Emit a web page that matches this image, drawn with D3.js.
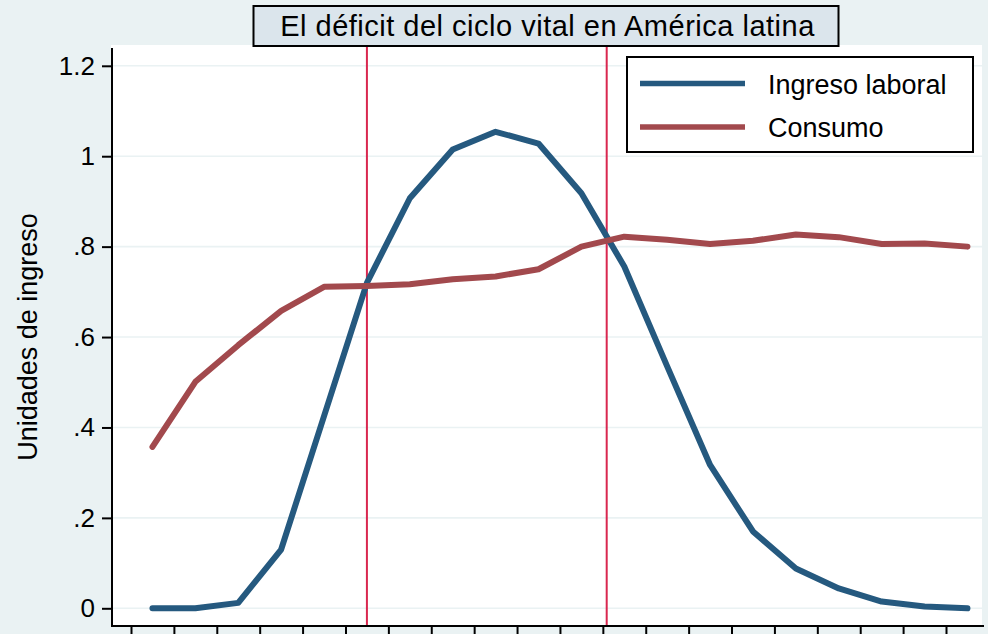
<!DOCTYPE html>
<html>
<head>
<meta charset="utf-8">
<script src="https://cdn.jsdelivr.net/npm/d3@7"></script>
<style>
  html, body { margin: 0; padding: 0; background: #eaf2f3; }
  svg { display: block; }
  text { font-family: "Liberation Sans", Arial, Helvetica, sans-serif; fill: #000; }
</style>
</head>
<body>
<svg id="chart" width="988" height="634"></svg>
<script>
// ---- data ----
const ages = [2.5, 7.5, 12.5, 17.5, 22.5, 27.5, 32.5, 37.5, 42.5, 47.5,
              52.5, 57.5, 62.5, 67.5, 72.5, 77.5, 82.5, 87.5, 92.5, 97.5];
const ingresoLaboral = [0, 0, 0.012, 0.13, 0.425, 0.72, 0.907, 1.015, 1.054, 1.028,
                        0.918, 0.756, 0.535, 0.317, 0.17, 0.088, 0.044, 0.015, 0.004, 0];
const consumo = [0.357, 0.501, 0.582, 0.658, 0.711, 0.713, 0.717, 0.728, 0.734, 0.75,
                 0.80, 0.822, 0.815, 0.806, 0.813, 0.827, 0.821, 0.806, 0.807, 0.80];
const xTicks = [0, 5, 10, 15, 20, 25, 30, 35, 40, 45, 50, 55, 60, 65, 70, 75, 80, 85, 90, 95];
const yTicks = [0, 0.2, 0.4, 0.6, 0.8, 1, 1.2];
const yTickLabels = ["0", ".2", ".4", ".6", ".8", "1", "1.2"];
const vLines = [27.5, 55.45];
const seriesNames = ["Ingreso laboral", "Consumo"];
const title = "El déficit del ciclo vital en América latina";
const yTitle = "Unidades de ingreso";

// ---- layout ----
const svg = d3.select("#chart");
const W = 988, H = 634;
const plot = { left: 112, right: 982, top: 45, bottom: 626 };
const colors = ["#25597f", "#a2494d"];

const x = d3.scaleLinear().domain([0, 95]).range([131, 946]);
const y = d3.scaleLinear().domain([0, 1.2]).range([608.3, 65.8]);

svg.append("rect").attr("x", 0).attr("y", 0).attr("width", W).attr("height", H).attr("fill", "#eaf2f3");
svg.append("rect").attr("x", plot.left - 1).attr("y", plot.top)
  .attr("width", plot.right - plot.left + 1).attr("height", plot.bottom - plot.top).attr("fill", "#ffffff");

// gridlines
svg.append("g").selectAll("line").data(yTicks).join("line")
  .attr("x1", plot.left).attr("x2", plot.right)
  .attr("y1", d => y(d)).attr("y2", d => y(d))
  .attr("stroke", "#eaf2f3").attr("stroke-width", 1.6);

// y axis
const yAxis = d3.axisLeft(y).tickValues(yTicks)
  .tickFormat((d, i) => yTickLabels[i]).tickSize(10).tickPadding(7);
const gy = svg.append("g").attr("transform", `translate(${plot.left},0)`).call(yAxis);
gy.select(".domain").attr("d", `M0,${plot.top + 3}V${plot.bottom}`).attr("stroke", "#000").attr("stroke-width", 2);
gy.selectAll(".tick line").attr("stroke", "#000").attr("stroke-width", 2);
gy.selectAll(".tick text").attr("font-size", 26).attr("font-family", "Liberation Sans, Arial, sans-serif").attr("fill", "#000");

// x axis
const xAxis = d3.axisBottom(x).tickValues(xTicks).tickFormat("").tickSize(12);
const gx = svg.append("g").attr("transform", `translate(0,${plot.bottom})`).call(xAxis);
gx.select(".domain").attr("d", `M${plot.left - 1},0H${plot.right + 2}`).attr("stroke", "#000").attr("stroke-width", 2);
gx.selectAll(".tick line").attr("stroke", "#000").attr("stroke-width", 2);

// vertical reference lines
svg.append("g").selectAll("line").data(vLines).join("line")
  .attr("x1", d => x(d)).attr("x2", d => x(d))
  .attr("y1", plot.top).attr("y2", plot.bottom - 1)
  .attr("stroke", "#d9274f").attr("stroke-width", 2);

// series lines
const series = [ingresoLaboral, consumo];
const line = d3.line().x((d, i) => x(ages[i])).y(d => y(d));
svg.append("g").selectAll("path").data(series).join("path")
  .attr("d", d => line(d))
  .attr("fill", "none")
  .attr("stroke", (d, i) => colors[i])
  .attr("stroke-width", 6)
  .attr("stroke-linejoin", "round")
  .attr("stroke-linecap", "round");

// y axis title
svg.append("text")
  .attr("transform", `translate(37,337) rotate(-90)`)
  .attr("text-anchor", "middle")
  .attr("font-size", 27)
  .text(yTitle);

// title box
const titleG = svg.append("g");
titleG.append("rect").attr("x", 253.5).attr("y", 6).attr("width", 585).attr("height", 40)
  .attr("fill", "#dbe5ec").attr("stroke", "#000").attr("stroke-width", 2);
titleG.append("text").attr("x", 547.5).attr("y", 35.5).attr("text-anchor", "middle")
  .attr("font-size", 29).attr("letter-spacing", "0.5px").text(title);

// legend
const lg = svg.append("g");
lg.append("rect").attr("x", 627).attr("y", 57).attr("width", 346).attr("height", 95)
  .attr("fill", "#ffffff").attr("stroke", "#000").attr("stroke-width", 2);
const legendY = [83.5, 127];
const legendBase = [94, 137];
seriesNames.forEach((name, i) => {
  lg.append("line").attr("x1", 640).attr("x2", 745)
    .attr("y1", legendY[i]).attr("y2", legendY[i])
    .attr("stroke", colors[i]).attr("stroke-width", 5.5);
  lg.append("text").attr("x", 768).attr("y", legendBase[i])
    .attr("font-size", 27).text(name);
});
</script>
</body>
</html>
